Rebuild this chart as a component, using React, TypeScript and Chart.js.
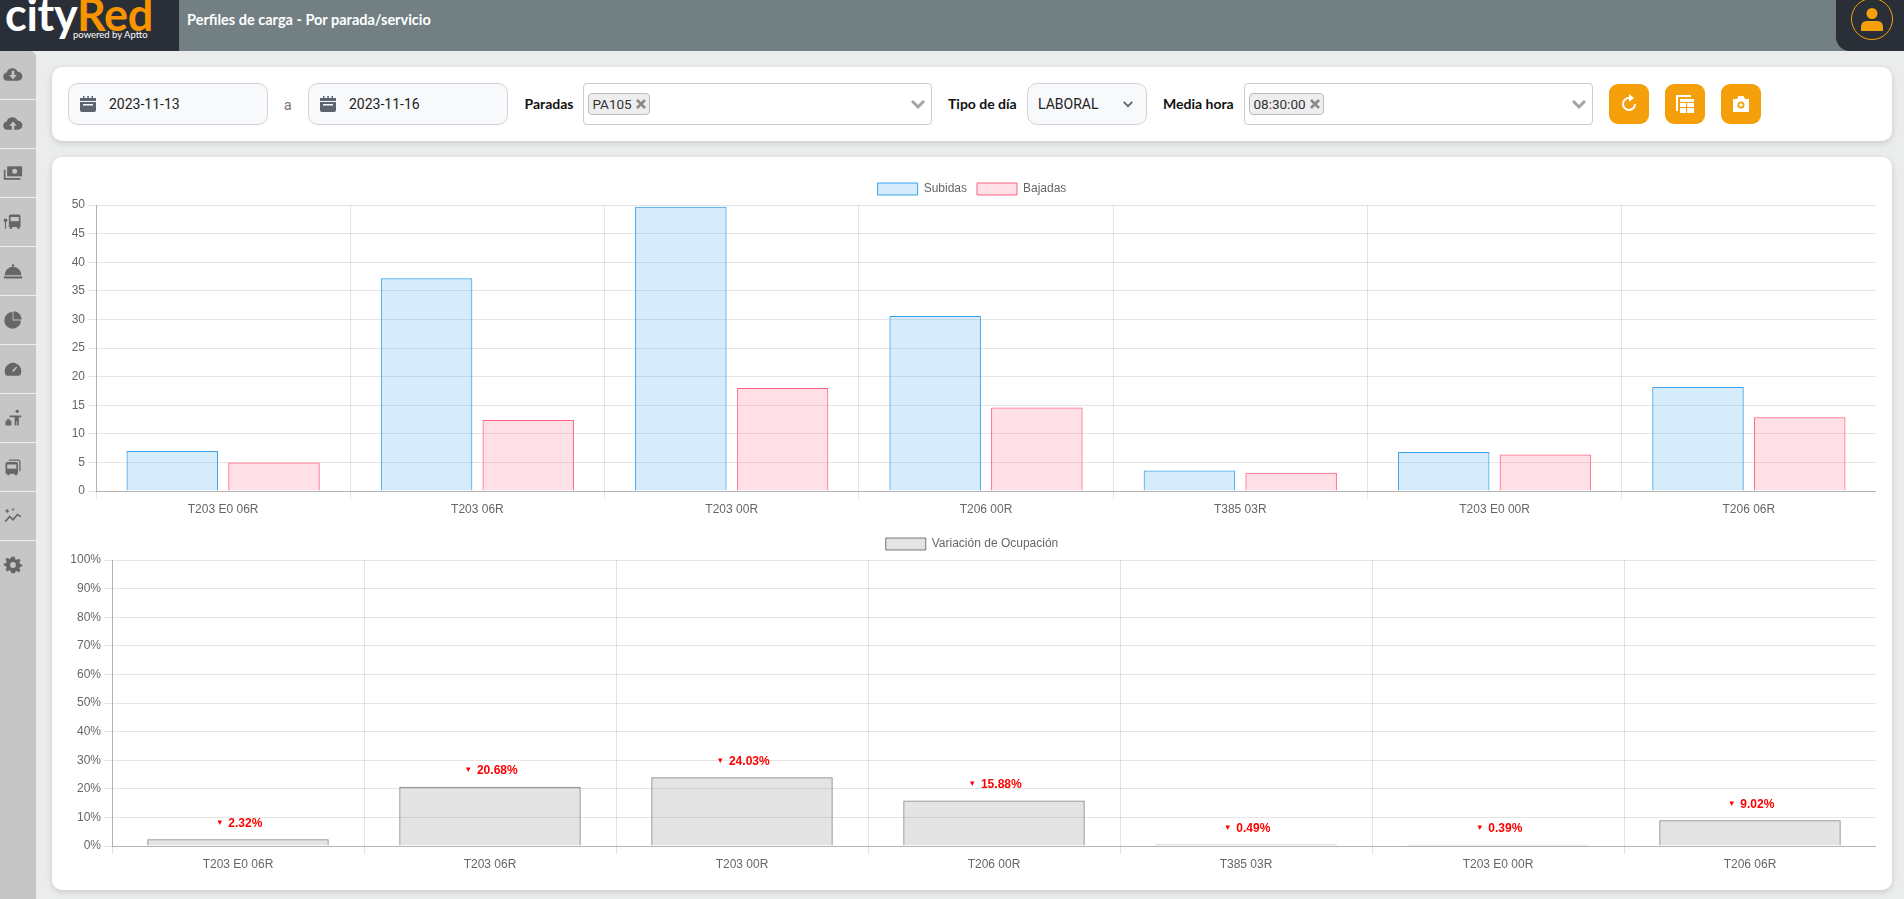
import React, { useEffect, useRef } from "react";
import { Chart, registerables } from "chart.js";

Chart.register(...registerables);

const categories = ["T203 E0 06R", "T203 06R", "T203 00R", "T206 00R", "T385 03R", "T203 E0 00R", "T206 06R"];
const subidas = [7, 37.2, 49.7, 30.6, 3.6, 6.8, 18.2];
const bajadas = [5, 12.4, 18, 14.6, 3.2, 6.4, 12.9];
const variacion = [2.32, 20.68, 24.03, 15.88, 0.49, 0.39, 9.02];

const LABEL_FONT = "'Liberation Sans', Arial, sans-serif";
const UI_FONT = "Lato, sans-serif";
const INPUT_FONT = "Roboto, sans-serif";
const GRID = "rgba(0,0,0,0.1)";
const AXIS = "rgba(0,0,0,0.22)";

const redLabels = {
  id: "redLabels",
  afterDatasetsDraw(chart: any) {
    const meta = chart.getDatasetMeta(0);
    const ctx = chart.ctx;
    ctx.save();
    ctx.fillStyle = "#ff0000";
    ctx.textBaseline = "middle";
    meta.data.forEach((el: any, i: number) => {
      const text = `${variacion[i].toFixed(2)}%`;
      ctx.font = `bold 12px ${LABEL_FONT}`;
      const block = ctx.measureText(text).width + 14.6;
      ctx.textAlign = "right";
      ctx.fillText(text, el.x + block / 2, el.y - 16);
      ctx.font = `9px 'DejaVu Sans', sans-serif`;
      ctx.textAlign = "center";
      ctx.fillText("▾", el.x - block / 2 + 6, el.y - 17);
    });
    ctx.restore();
  },
};

function commonOptions(yWidth: number, step: number, max: number, fmt: (v: any) => string): any {
  return {
    responsive: false,
    animation: false,
    font: { family: LABEL_FONT },
    plugins: {
      legend: {
        position: "top",
        labels: { color: "#666", font: { family: LABEL_FONT, size: 12 } },
      },
      tooltip: { enabled: false },
    },
    scales: {
      x: {
        offset: true,
        grid: { color: GRID, tickLength: 8 },
        border: { color: AXIS },
        ticks: { color: "#666", font: { family: LABEL_FONT, size: 12 }, maxRotation: 0 },
        afterFit: (s: any) => { s.height = 40; },
      },
      y: {
        min: 0,
        max,
        grid: { color: GRID, tickLength: 8 },
        border: { color: AXIS },
        ticks: { color: "#666", stepSize: step, font: { family: LABEL_FONT, size: 12 }, callback: fmt },
        afterFit: (s: any) => { s.width = yWidth; },
      },
    },
  };
}

function Charts() {
  const a = useRef<HTMLCanvasElement>(null);
  const b = useRef<HTMLCanvasElement>(null);
  useEffect(() => {
    const c1 = new Chart(a.current!, {
      type: "bar",
      data: {
        labels: categories,
        datasets: [
          { label: "Subidas", data: subidas, backgroundColor: "rgba(54,162,235,0.2)", borderColor: "rgb(54,162,235)", borderWidth: 1 },
          { label: "Bajadas", data: bajadas, backgroundColor: "rgba(255,99,132,0.2)", borderColor: "rgb(255,99,132)", borderWidth: 1 },
        ],
      },
      options: commonOptions(28, 5, 50, (v) => String(v)),
    });
    const c2 = new Chart(b.current!, {
      type: "bar",
      data: {
        labels: categories,
        datasets: [
          { label: "Variación de Ocupación", data: variacion, backgroundColor: "rgba(0,0,0,0.105)", borderColor: "rgba(0,0,0,0.5)", borderWidth: 1 },
        ],
      },
      options: commonOptions(44, 10, 100, (v) => `${v}%`),
      plugins: [redLabels],
    });
    return () => { c1.destroy(); c2.destroy(); };
  }, []);
  return (
    <>
      <canvas ref={a} width={1808} height={358} style={{ position: "absolute", left: 68, top: 173, display: "block" }} />
      <canvas ref={b} width={1808} height={358} style={{ position: "absolute", left: 68, top: 528, display: "block" }} />
    </>
  );
}

const abs = (left: number, top: number, width: number, height: number, extra: any = {}): any => ({
  position: "absolute", left, top, width, height, boxSizing: "border-box", ...extra,
});

const sideIcons: React.ReactNode[] = [
  <g key="0" transform="translate(0 2)"><path d="M5 17a5 5 0 0 1-.6-9.9A7 7 0 0 1 17.6 6 5.5 5.5 0 0 1 18 17z" /><path d="M10.5 5h3v5h3l-4.500 5-4.500-5h3z" fill="#c6c6c6" /></g>,
  <g key="1" transform="translate(0 2)"><path d="M5 17a5 5 0 0 1-.6-9.900A7 7 0 0 1 17.600 6 5.500 5.500 0 0 1 18 17z" /><path d="M10.500 17v-5h-3l4.500-5 4.500 5h-3v5z" fill="#c6c6c6" /></g>,
  <g key="2"><path d="M5 4h18v12H5z" /><path d="M1 8h2v10h18v2H1z" /><circle cx="14" cy="10" r="3" fill="#c6c6c6" /></g>,
  <g key="3"><circle cx="3" cy="10" r="2.200" /><path d="M2.300 11h1.400v9H2.300z" /><path d="M7 5q0-2 2-2h10q2 0 2 2v13h-1v2h-3v-2h-6v2H8v-2H7z" /><path d="M9 6h10v5H9z" fill="#c6c6c6" /></g>,
  <g key="4"><path d="M2 17a10 10 0 0 1 20 0z" /><circle cx="12" cy="5.500" r="1.500" /><path d="M1 18.500h22V21H1z" /></g>,
  <g key="5"><path d="M11.500 2.500a10 10 0 1 0 10 10h-10z" /><path d="M12.500 1.500v10h10a10 10 0 0 0-10-10z" /></g>,
  <g key="6"><path d="M3 19a10 10 0 1 1 18 0q-.5 1-2 1H5q-1.500 0-2-1z" /><path d="M11 14l5-5 1 1-4.500 5.500z" fill="#c6c6c6" /></g>,
  <g key="7"><circle cx="17" cy="4" r="2" /><path d="M8 9h14v2h-3v10h-2v-5h-1v5h-2V11H8z" /><path d="M3 15h7v6H3z" /><path d="M5 13h3v2H5z" /></g>,
  <g key="8"><path d="M3 8q0-2 2-2h11q2 0 2 2v12h-1v2h-3v-2H8v2H5v-2H3z" /><path d="M5 9h11v5H5z" fill="#c6c6c6" /><path d="M7 3h11q3 0 3 3v11h-1.500V6q0-1.500-1.500-1.500H7z" /></g>,
  <g key="9"><path d="M2 18l6-7 4 4 5-6 5 3-1 1.500-3.500-2-5.300 6.500-4-4-5 5.500z" /><path d="M5 3l1 2 2 1-2 1-1 2-1-2-2-1 2-1zM12 2l.7 1.500L14 4l-1.300.7L12 6l-.7-1.300L10 4l1.300-.5z" /></g>,
  <g key="10"><path d="M12 2l2 .2.7 2.800 1.800.8 2.500-1.400 2 2-1.400 2.500.8 1.800L23 11.500v2l-2.600.8-.8 1.800 1.400 2.500-2 2-2.500-1.400-1.800.8L14 22h-4l-.7-2.800-1.800-.8L5 19.800l-2-2 1.400-2.500-.8-1.800L1 12.500v-2l2.600-.8.8-1.800L3 5.400l2-2 2.500 1.400 1.800-.8L10 2z" /><circle cx="12" cy="12" r="3.500" fill="#c6c6c6" /></g>,
];

function Calendar({ x }: { x: number }) {
  return (
    <svg style={abs(x, 96, 16, 16)} viewBox="0 0 16 16" fill="#5c6470">
      <path d="M0 2h16v3H0zM0 6h16v8q0 2-2 2H2q-2 0-2-2z" />
      <path d="M3 0h1.500v3H3zM7.300 0h1.500v3H7.300zM11.500 0H13v3h-1.500z" />
      <path d="M3 8h10v1.500H3z" fill="#f8f9fa" />
    </svg>
  );
}

function Chevron({ x, y, color, w = 14 }: any) {
  return (
    <svg style={abs(x - w / 2, y - w / 2, w, w)} viewBox="0 0 14 14" fill="none" stroke={color} strokeWidth={w > 10 ? 3 : 2.500}>
      <path d="M1 4l6 6 6-6" />
    </svg>
  );
}

function MultiSelect({ x, w, chipW, text }: any) {
  return (
    <>
      <div style={abs(x, 83, w, 42, { border: "1px solid #cccccc", borderRadius: 4, background: "#fff" })} />
      <div style={abs(x + 5, 93, chipW, 22, { border: "1px solid #bdbdbd", borderRadius: 4, background: "#eeeeee", color: "#333", fontFamily: INPUT_FONT, fontSize: 13.500, lineHeight: "20px", paddingLeft: 4, whiteSpace: "nowrap" })}>{text}</div>
      <svg style={abs(x + 5 + chipW - 14, 99, 10, 10)} viewBox="0 0 10 10" stroke="#8a8a8a" strokeWidth={2.6}><path d="M1 1l8 8M9 1l-8 8" /></svg>
      <Chevron x={x + w - 14} y={104} color="#a3a3a3" />
    </>
  );
}

function Label({ x, text }: any) {
  return <div style={{ position: "absolute", left: x, top: 94, lineHeight: "20px", fontSize: 14, fontWeight: 700, color: "#111", whiteSpace: "nowrap" }}>{text}</div>;
}

function OrangeBtn({ x, children }: any) {
  return (
    <div style={abs(x, 84, 40, 40, { background: "#f59f0b", borderRadius: 9 })}>
      <svg style={abs(10, 10, 20, 20)} viewBox="0 0 20 20" fill="#fff" stroke="none">{children}</svg>
    </div>
  );
}

const inputText = { color: "#222", fontFamily: INPUT_FONT, fontSize: 14, lineHeight: "40px" };

export default function App() {
  return (
    <div style={{ position: "absolute", left: 0, top: 0, width: 1904, height: 899, overflow: "hidden", background: "#ebedec", fontFamily: UI_FONT }}>
      {/* header */}
      <div style={abs(0, 0, 1904, 51, { background: "#728084" })} />
      <div style={abs(0, 0, 179, 51, { background: "#2a2e36", overflow: "hidden" })}>
        <div style={{ position: "absolute", left: 5, top: -12, fontFamily: "Lato, sans-serif", fontWeight: 700, fontSize: 45, lineHeight: "52px", letterSpacing: -0.3, whiteSpace: "nowrap" }}>
          <span style={{ color: "#fff" }}>city</span><span style={{ color: "#f79400" }}>Red</span>
        </div>
        <div style={{ position: "absolute", left: 73, top: 28, fontSize: 9.500, lineHeight: "13px", color: "#fff", fontFamily: "Lato, sans-serif", whiteSpace: "nowrap" }}>powered by Aptto</div>
      </div>
      <div style={{ position: "absolute", left: 187, top: 9, color: "#fff", fontSize: 14.500, fontWeight: 700, lineHeight: "22px", whiteSpace: "nowrap" }}>Perfiles de carga - Por parada/servicio</div>
      <div style={abs(1836, 0, 68, 51, { background: "#2a2e36", borderBottomLeftRadius: 14 })}>
        <div style={abs(15, -2, 42, 42, { border: "1px solid #f59f0b", borderRadius: "50%" })} />
        <svg style={abs(25, 7, 22, 24)} viewBox="0 0 22 24" fill="#f59f0b"><circle cx="11" cy="6.500" r="5.500" /><path d="M0 24v-4q0-6 6-6h10q6 0 6 6v4z" /></svg>
      </div>

      {/* sidebar */}
      <div style={abs(0, 51, 36, 848, { background: "#c6c6c6", borderTopRightRadius: 6 })} />
      {sideIcons.map((g, i) => (
        <React.Fragment key={i}>
          <svg style={abs(2.500, 65 + i * 49, 20, 20)} viewBox="0 0 24 24" fill="#666666">{g}</svg>
          {i < 10 && <div style={abs(0, 99 + i * 49, 36, 1, { background: "#f0f0f0" })} />}
        </React.Fragment>
      ))}

      {/* filter panel */}
      <div style={abs(52, 67, 1840, 74, { background: "#fff", borderRadius: 10, boxShadow: "0 2px 6px rgba(0,0,0,0.15)" })} />
      <div style={abs(68, 83, 200, 42, { background: "#f8f9fa", border: "1px solid #ced4da", borderRadius: 10, paddingLeft: 40, ...inputText })}>2023-11-13</div>
      <Calendar x={80} />
      <div style={{ position: "absolute", left: 284, top: 94, fontFamily: INPUT_FONT, fontSize: 14, lineHeight: "22px", color: "#7a6a74" }}>a</div>
      <div style={abs(308, 83, 200, 42, { background: "#f8f9fa", border: "1px solid #ced4da", borderRadius: 10, paddingLeft: 40, ...inputText })}>2023-11-16</div>
      <Calendar x={320} />
      <Label x={524.500} text="Paradas" />
      <MultiSelect x={582.500} w={349} chipW={62} text="PA105" />
      <Label x={948} text="Tipo de día" />
      <div style={abs(1027, 83, 120, 42, { background: "#f8f9fa", border: "1px solid #ced4da", borderRadius: 10, paddingLeft: 10, ...inputText })}>LABORAL</div>
      <Chevron x={1128} y={104} color="#5c6470" w={10} />
      <Label x={1163} text="Media hora" />
      <MultiSelect x={1243.500} w={349} chipW={75} text="08:30:00" />
      <OrangeBtn x={1609}>
        <path d="M10 3a7 7 0 1 0 7 7h-2a5 5 0 1 1-5-5v3l5-4-5-4z" />
      </OrangeBtn>
      <OrangeBtn x={1665}>
        <path d="M1 1h15v2H3v14H1z" /><path d="M5 5h14v3H5zM5 9h6v4H5zM12 9h7v4h-7zM5 14h6v5H5zM12 14h7v5h-7z" />
      </OrangeBtn>
      <OrangeBtn x={1721}>
        <path fillRule="evenodd" d="M2 5h4l1.500-3h5L14 5h4v13H2zM10 7.500a3.500 3.500 0 1 0 0 7 3.500 3.500 0 0 0 0-7z" />
        <circle cx="10" cy="11" r="1.800" />
      </OrangeBtn>

      {/* chart panel */}
      <div style={abs(52, 157, 1840, 733, { background: "#fff", borderRadius: 10, boxShadow: "0 2px 6px rgba(0,0,0,0.15)" })} />
      <Charts />
    </div>
  );
}
